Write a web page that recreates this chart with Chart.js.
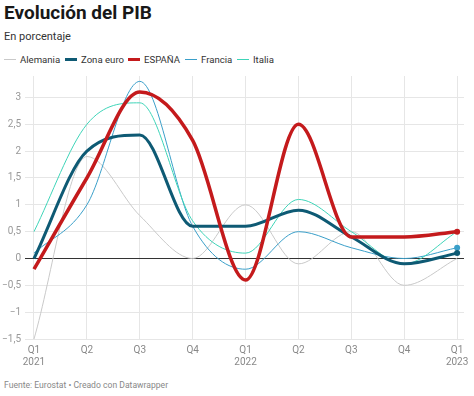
<!DOCTYPE html>
<html><head><meta charset="utf-8">
<script src="https://cdn.jsdelivr.net/npm/chart.js@4/dist/chart.umd.min.js"></script>
<style>
html,body{margin:0;padding:0;background:#fff;width:474px;height:396px;overflow:hidden;font-family:Roboto,"Noto Sans",sans-serif;}
#title{position:absolute;left:4px;top:1px;font-size:19px;font-weight:700;color:#181818;}
#sub{position:absolute;left:4px;top:30px;font-size:11px;color:#333;}
#legend{position:absolute;left:0;top:54px;height:14px;width:474px;font-size:9.6px;color:#333;}
.li{position:absolute;top:0;display:flex;align-items:center;white-space:nowrap;}
.sw{width:12px;margin-right:4px;}
#foot{position:absolute;left:4px;top:380px;font-size:8.6px;color:#888;}
#wrap{position:absolute;left:0;top:66px;width:474px;height:304px;}
</style></head><body>
<div id="title">Evolución del PIB</div>
<div id="sub">En porcentaje</div>
<div id="legend"></div>
<div id="foot">Fuente: Eurostat • Creado con Datawrapper</div>
<div id="wrap"><canvas id="c"></canvas></div>
<script>
const quarters = [["Q1","2021"],"Q2","Q3","Q4",["Q1","2022"],"Q2","Q3","Q4",["Q1","2023"]];
const alemania = [-1.5, 1.9, 0.8, 0.0, 1.0, -0.1, 0.5, -0.5, 0.0];
const zonaEuro = [0.0, 2.0, 2.3, 0.6, 0.6, 0.9, 0.4, -0.1, 0.1];
const espana   = [-0.2, 1.5, 3.1, 2.2, -0.4, 2.5, 0.4, 0.4, 0.5];
const francia  = [0.1, 1.0, 3.3, 0.6, -0.2, 0.5, 0.2, 0.0, 0.2];
const italia   = [0.5, 2.5, 2.9, 0.7, 0.1, 1.1, 0.5, -0.1, 0.5];
const yTicks = [-1.5,-1,-0.5,0,0.5,1,1.5,2,2.5,3];

const series = [
  {label:"Alemania", data:alemania, color:"#c9c9c9", w:1, dot:false, order:4},
  {label:"Zona euro", data:zonaEuro, color:"#0e5a74", w:3, dot:true, order:1},
  {label:"ESPAÑA", data:espana, color:"#c41a1c", w:3.5, dot:true, order:0},
  {label:"Francia", data:francia, color:"#3a9fc9", w:1, dot:true, order:3},
  {label:"Italia", data:italia, color:"#3ed4b8", w:1, dot:false, order:2},
];
const legendLeft = [4, 65, 128, 185, 237];
const lg = document.getElementById('legend');
series.forEach((s,i)=>{
  const d=document.createElement('div');d.className='li';d.style.left=legendLeft[i]+'px';
  d.innerHTML='<span class="sw" style="height:'+(s.w>2?3:1.5)+'px;background:'+s.color+'"></span>'+s.label;
  lg.appendChild(d);
});
const n = quarters.length;
const datasets = series.map(s=>({
  label:s.label,
  data:s.data.map((v,i)=>({x:i,y:v})),
  borderColor:s.color, backgroundColor:s.color,
  borderWidth:s.w, cubicInterpolationMode:'monotone',
  pointRadius:s.data.map((v,i)=> (s.dot && i===n-1)?3:0),
  pointBorderWidth:0, order:s.order, clip:false
}));
new Chart(document.getElementById('c'),{
  type:'line',
  data:{datasets},
  options:{
    responsive:true, maintainAspectRatio:false, animation:false,
    layout:{padding:{top:6,right:10,left:0,bottom:0}},
    plugins:{legend:{display:false},tooltip:{enabled:false}},
    scales:{
      x:{type:'linear',min:-0.17,max:8.13,
        afterBuildTicks:(a)=>{a.ticks=quarters.map((q,i)=>({value:i}));},
        afterFit:(a)=>{a.height=31;},
        grid:{color:'#e6e6e6',drawTicks:false},
        border:{display:false},
        ticks:{padding:5,color:'#888',font:{family:'Roboto',size:10},maxRotation:0,autoSkip:false,
          callback:(v)=>quarters[v]}
      },
      y:{min:-1.5,max:3.4,
        afterBuildTicks:(a)=>{a.ticks=yTicks.map(v=>({value:v}));},
        afterFit:(a)=>{a.width=25;},
        grid:{color:(ctx)=>ctx.tick&&ctx.tick.value===0?'#333':'#e6e6e6',drawTicks:false},
        border:{display:false},
        ticks:{padding:4,color:'#999',font:{family:'Roboto',size:10},
          callback:(v)=>String(v).replace('.',',').replace('-','−')}
      }
    }
  }
});
</script>
</body></html>
